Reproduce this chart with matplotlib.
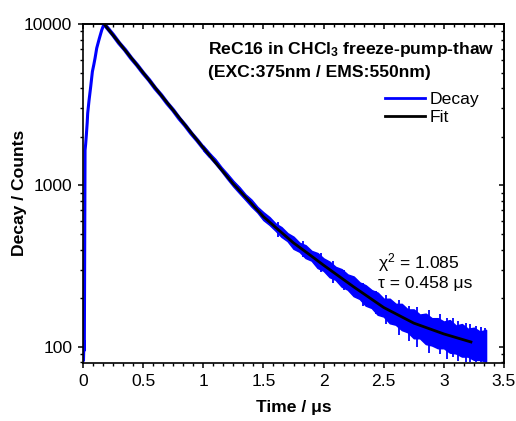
"""Time-resolved emission decay of ReC16 with mono-exponential fit."""
import matplotlib

matplotlib.use("Agg")
import matplotlib.pyplot as plt
from matplotlib.ticker import FixedLocator, FuncFormatter, LogLocator, MultipleLocator, NullFormatter

plt.rcParams["font.family"] = ["Liberation Sans", "DejaVu Sans"]
plt.rcParams["mathtext.fontset"] = "custom"
plt.rcParams["mathtext.rm"] = "Liberation Sans"
plt.rcParams["mathtext.it"] = "Liberation Sans:italic"
plt.rcParams["mathtext.bf"] = "Liberation Sans:bold"

FS = 12.6

# rising edge of the decay (time in us, counts)
rise_t = [0.0, 0.004, 0.008, 0.011, 0.014, 0.017, 0.022, 0.028, 0.035, 0.039, 0.05,
          0.064, 0.078, 0.09, 0.1, 0.114, 0.125, 0.136, 0.156, 0.175]
rise_counts = [88, 82, 108, 95, 400, 1650, 1800, 2060, 2450, 2800, 3350,
               4090, 5070, 5600, 6130, 7080, 7600, 8150, 9180, 10000]

# early decay, thin trace
early_t = [0.175, 0.2, 0.25, 0.3, 0.35, 0.4, 0.45, 0.5, 0.55, 0.6, 0.65, 0.7,
           0.75, 0.8, 0.85, 0.9, 0.95, 1.0, 1.05]
early_counts = [10000, 9500, 8560, 7620, 6900, 6150, 5560, 4970, 4490, 4000, 3620, 3230,
                2920, 2600, 2350, 2100, 1900, 1705, 1545]

# noisy tail, upper / lower envelope of the trace
band_t = [1.00, 1.05, 1.10, 1.15, 1.20, 1.25, 1.30, 1.35, 1.40, 1.45, 1.50, 1.55,
          1.60, 1.65, 1.70, 1.75, 1.80, 1.85, 1.90, 1.95, 2.00, 2.05, 2.10, 2.15,
          2.20, 2.25, 2.30, 2.35, 2.40, 2.45, 2.50, 2.55, 2.60, 2.65, 2.70, 2.75,
          2.80, 2.85, 2.90, 2.95, 3.00, 3.05, 3.10, 3.15, 3.20, 3.25, 3.30, 3.35]
band_hi = [1760, 1590, 1455, 1300, 1180, 1065, 975, 880, 815, 735, 680, 635,
           580, 550, 505, 480, 440, 425, 392, 380, 352, 336, 312, 302,
           280, 272, 250, 240, 224, 216, 198, 198, 184, 184, 170, 170,
           158, 160, 150, 150, 143, 146, 135, 138, 129, 131, 124, 127]
band_lo = [1650, 1500, 1360, 1225, 1095, 985, 895, 815, 740, 680, 610, 570,
           525, 480, 452, 405, 388, 355, 342, 308, 296, 270, 260, 236,
           226, 206, 198, 180, 174, 158, 154, 140, 137, 127, 123, 113,
           113, 104, 102, 98, 98, 92, 91, 87, 87, 83, 83, 81]

# isolated noise spikes in the tail
spike_t = [1.62, 1.83, 1.98, 2.08, 2.17, 2.33, 2.44, 2.52, 2.63, 2.71, 2.78,
           2.88, 2.97, 3.03, 3.08, 3.12, 3.18, 3.22, 3.27, 3.31, 3.34]
spike_lo = [480, 360, 290, 250, 225, 180, 160, 138, 118, 108, 100,
            92, 90, 84, 86, 82, 80, 80, 80, 80, 80]
spike_hi = [590, 450, 380, 340, 300, 250, 220, 210, 195, 180, 175,
            168, 160, 150, 150, 145, 140, 138, 135, 132, 130]

# fit curve
fit_t = [0.175, 0.25, 0.375, 0.5, 0.625, 0.75, 0.875, 1.0, 1.125, 1.25, 1.375, 1.5,
         1.625, 1.75, 1.875, 2.0, 2.25, 2.5, 2.75, 3.0, 3.225]
fit_counts = [10000, 8520, 6520, 4990, 3815, 2920, 2233, 1710, 1320, 1020, 810, 640,
              530, 440, 376, 320, 235, 175, 140, 120, 107]

BLUE = "#0000ff"

fig = plt.figure(figsize=(5.16, 4.21), dpi=100)
ax = fig.add_axes([83 / 516, 1 - 362.7 / 421, 421 / 516, 338.7 / 421])

ax.plot(rise_t, rise_counts, color=BLUE, lw=2.2, solid_joinstyle="round")
ax.plot(early_t, early_counts, color=BLUE, lw=3.0, label="Decay")
ax.fill_between(band_t, band_lo, band_hi, color=BLUE, lw=1.2, edgecolor=BLUE)
ax.vlines(spike_t, spike_lo, spike_hi, color=BLUE, lw=1.3)
ax.plot(fit_t, fit_counts, color="black", lw=2.0, label="Fit")

ax.set_yscale("log")
ax.set_xlim(0, 3.5)
ax.set_ylim(79.6, 10000)

ax.xaxis.set_major_locator(MultipleLocator(0.5))
ax.xaxis.set_minor_locator(MultipleLocator(0.5 / 6))
ax.xaxis.set_major_formatter(FuncFormatter(lambda v, pos: f"{v:g}"))
ax.yaxis.set_major_locator(FixedLocator([100, 1000, 10000]))
ax.yaxis.set_minor_locator(LogLocator(base=10, subs=range(2, 10)))
ax.yaxis.set_major_formatter(FuncFormatter(lambda v, pos: f"{v:.0f}"))
ax.yaxis.set_minor_formatter(NullFormatter())

for s in ax.spines.values():
    s.set_linewidth(1.2)
ax.tick_params(which="major", direction="out", length=3.8, width=1.1, labelsize=FS, pad=4)
ax.tick_params(which="minor", direction="out", length=2.3, width=1.0)

# mirrored ticks pointing inward on top and right
top = ax.secondary_xaxis("top")
top.xaxis.set_major_locator(MultipleLocator(0.5))
top.xaxis.set_minor_locator(MultipleLocator(0.5 / 6))
top.tick_params(which="major", direction="in", length=3.8, width=1.1, labeltop=False)
top.tick_params(which="minor", direction="in", length=2.3, width=1.0)
right = ax.secondary_yaxis("right")
right.yaxis.set_major_locator(FixedLocator([100, 1000, 10000]))
right.yaxis.set_minor_locator(LogLocator(base=10, subs=range(2, 10)))
right.tick_params(which="major", direction="in", length=3.8, width=1.1, labelright=False)
right.tick_params(which="minor", direction="in", length=2.3, width=1.0, labelright=False)
for sec in (top, right):
    for s in sec.spines.values():
        s.set_linewidth(1.2)

ax.set_xlabel("Time / μs", fontsize=FS, fontweight="bold", labelpad=8)
ax.set_ylabel("Decay / Counts", fontsize=FS, fontweight="bold")
ax.yaxis.set_label_coords(-0.133, 0.5)

ax.text(0.297, 0.926, r"ReC16 in CHCl$_{\mathbf{3}}$ freeze-pump-thaw", transform=ax.transAxes,
        fontsize=FS, fontweight="bold", ha="left", va="center")
ax.text(0.297, 0.857, "(EXC:375nm / EMS:550nm)", transform=ax.transAxes,
        fontsize=FS, fontweight="bold", ha="left", va="center")
ax.text(0.701, 0.297, "χ$^{2}$ = 1.085", transform=ax.transAxes,
        fontsize=FS, ha="left", va="center")
ax.text(0.701, 0.235, "τ = 0.458 μs", transform=ax.transAxes,
        fontsize=FS, ha="left", va="center")

leg = ax.legend(loc="upper left", bbox_to_anchor=(0.717, 0.80), frameon=False, fontsize=FS,
                handlelength=2.3, handletextpad=0.25, labelspacing=0.15, borderpad=0,
                borderaxespad=0)
for ln in leg.get_lines():
    ln.set_linewidth(2.0)

fig.savefig("out.png", dpi=100)
